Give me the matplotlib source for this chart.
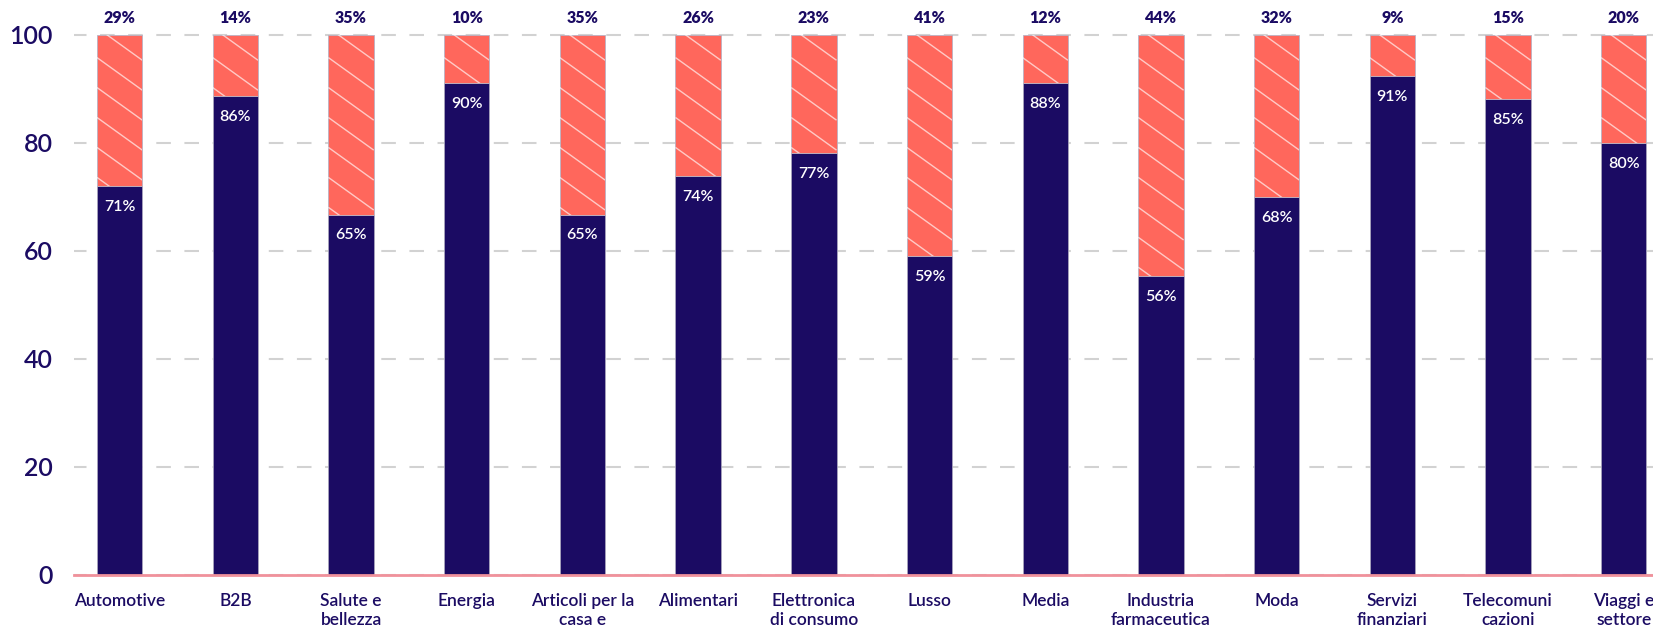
from matplotlib import pyplot as plt
from matplotlib.collections import LineCollection
import numpy as np

plt.rcParams['font.family'] = ['Lato', 'DejaVu Sans']

categories = ['Automotive', 'B2B', 'Salute e\nbellezza', 'Energia', 'Articoli per la\ncasa e',
              'Alimentari', 'Elettronica\ndi consumo', 'Lusso', 'Media', 'Industria\nfarmaceutica',
              'Moda', 'Servizi\nfinanziari', 'Telecomuni\ncazioni', 'Viaggi e\nsettore']
# bar heights as drawn
navy_heights = [72, 88.6, 66.7, 91, 66.7, 73.8, 78.1, 59, 91, 55.3, 70, 92.4, 88.1, 80]
# printed labels
navy_labels = [71, 86, 65, 90, 65, 74, 77, 59, 88, 56, 68, 91, 85, 80]
red_labels = [29, 14, 35, 10, 35, 26, 23, 41, 12, 44, 32, 9, 15, 20]
y_ticks = [0, 20, 40, 60, 80, 100]

navy = '#1b0b63'
coral = '#ff675c'
pink = '#f0919b'

W, H = 1653, 631
fig = plt.figure(figsize=(W / 100, H / 100), dpi=100)
ax = fig.add_axes([74 / W, 1 - 574.5 / H, 1 - 74 / W, (574.5 - 34.8) / H])

x = np.arange(len(categories))
width = 0.392
navy_heights = np.array(navy_heights)
red_heights = 100 - navy_heights

ax.bar(x, navy_heights, width=width, color=navy, edgecolor='#a8a4bd', linewidth=0.6, zorder=2)
red_bars = ax.bar(x, red_heights, bottom=navy_heights, width=width, color=coral,
                  edgecolor='#b9b3c4', linewidth=0.6, zorder=2)

ax.set_xlim(-0.3946, 13.253)
ax.set_ylim(0, 100)

# diagonal white stripes on the coral part, clipped to each bar
slope_drop = 6.05   # data units the stripe falls across one bar width
spacing = 5.55      # vertical distance between stripes
for i, patch in enumerate(red_bars):
    xl, xr = i - width / 2, i + width / 2
    segs = []
    for k in range(-1, 20):
        y0 = 100 + 1.33 - k * spacing
        segs.append([(xl, y0), (xr, y0 - slope_drop)])
    lc = LineCollection(segs, colors='white', linewidths=1.0, alpha=0.65, zorder=3)
    ax.add_collection(lc)
    lc.set_clip_path(patch)

for i in x:
    ax.annotate(f'{red_labels[i]}%', (i, 100), xytext=(0, 12), textcoords='offset points',
                ha='center', va='center', fontsize=11.5, fontweight='heavy', color=navy,
                annotation_clip=False)
    ax.annotate(f'{navy_labels[i]}%', (i, navy_heights[i]), xytext=(0, -15), textcoords='offset points',
                ha='center', va='center', fontsize=11.5, fontweight='semibold', color='white', zorder=4)

ax.set_yticks(y_ticks)
ax.set_xticks(x)
ax.set_xticklabels(categories, linespacing=1.3, fontweight='semibold')
for lbl in ax.get_yticklabels():
    lbl.set_fontweight('semibold')
ax.tick_params(axis='y', length=0, pad=15, labelsize=18, labelcolor=navy)
ax.tick_params(axis='x', length=0, pad=13, labelsize=12.5, labelcolor=navy)

ax.yaxis.grid(True, color='#d2d2d2', linewidth=1.5, linestyle=(1, (7, 6.5)))
for gl in ax.get_ygridlines():
    gl.set_clip_on(False)
ax.set_axisbelow(True)

for side in ['top', 'right', 'left']:
    ax.spines[side].set_visible(False)
ax.spines['bottom'].set_color(pink)
ax.spines['bottom'].set_linewidth(2)
ax.spines['bottom'].set_zorder(5)

plt.savefig('out.png', dpi=100)
